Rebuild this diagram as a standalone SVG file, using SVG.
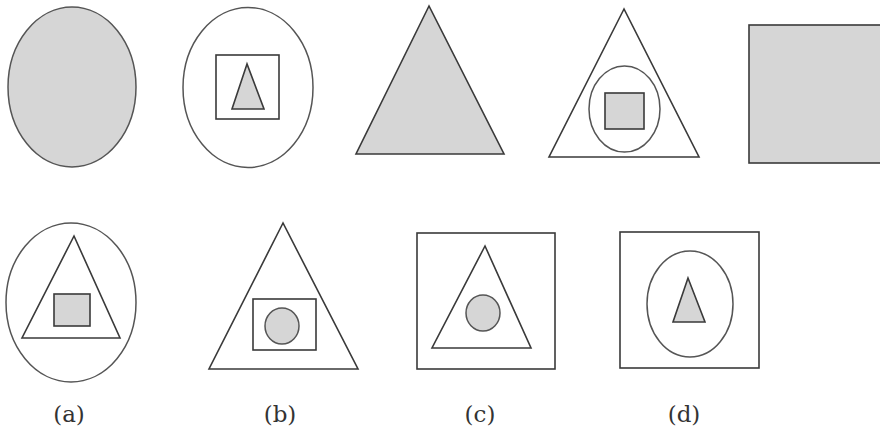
<svg xmlns="http://www.w3.org/2000/svg" width="880" height="430" viewBox="0 0 880 430">
<style>
.o{fill:none;stroke:#3a3a3a;stroke-width:1.6}
.f{fill:#d6d6d6;stroke:#3a3a3a;stroke-width:1.6}
.e{stroke:#555;stroke-width:1.5}
.lbl{font-family:"DejaVu Serif","Liberation Serif",serif;font-size:23px;fill:#333;text-anchor:middle}
</style>
<rect width="880" height="430" fill="#fff"/>
<g id="fig-top-1"><ellipse class="f e" cx="72" cy="87" rx="64" ry="80"/></g>
<g id="fig-top-2">
<ellipse class="o e" cx="248" cy="87.5" rx="65" ry="80"/>
<rect class="o" x="216" y="55" width="63" height="64"/>
<polygon class="f" points="247,64 232,109 264,109"/>
</g>
<g id="fig-top-3"><polygon class="f" points="429,6 356,154 504,154"/></g>
<g id="fig-top-4">
<polygon class="o" points="624,9 549,157 699,157"/>
<ellipse class="o e" cx="624.5" cy="109" rx="35.5" ry="43"/>
<rect class="f" x="605" y="93" width="39" height="36"/>
</g>
<g id="fig-top-5"><rect class="f" x="749" y="25" width="140" height="138"/></g>
<g id="fig-a">
<ellipse class="o e" cx="71" cy="302.5" rx="65" ry="79.5"/>
<polygon class="o" points="74,236 22,338 120,338"/>
<rect class="f" x="54" y="294" width="36" height="32"/>
<text class="lbl" x="69" y="422">(a)</text>
</g>
<g id="fig-b">
<polygon class="o" points="283,223 209,369 358,369"/>
<rect class="o" x="253" y="299" width="63" height="51"/>
<ellipse class="f e" cx="282" cy="326" rx="17" ry="18"/>
<text class="lbl" x="280" y="422">(b)</text>
</g>
<g id="fig-c">
<rect class="o" x="417" y="233" width="138" height="136"/>
<polygon class="o" points="485,246 432,348 531,348"/>
<ellipse class="f e" cx="483" cy="313" rx="17" ry="18"/>
<text class="lbl" x="480" y="422">(c)</text>
</g>
<g id="fig-d">
<rect class="o" x="620" y="232" width="139" height="136"/>
<ellipse class="o e" cx="690" cy="304" rx="43" ry="53"/>
<polygon class="f" points="688,278 673,322 705,322"/>
<text class="lbl" x="684" y="422">(d)</text>
</g>
</svg>
